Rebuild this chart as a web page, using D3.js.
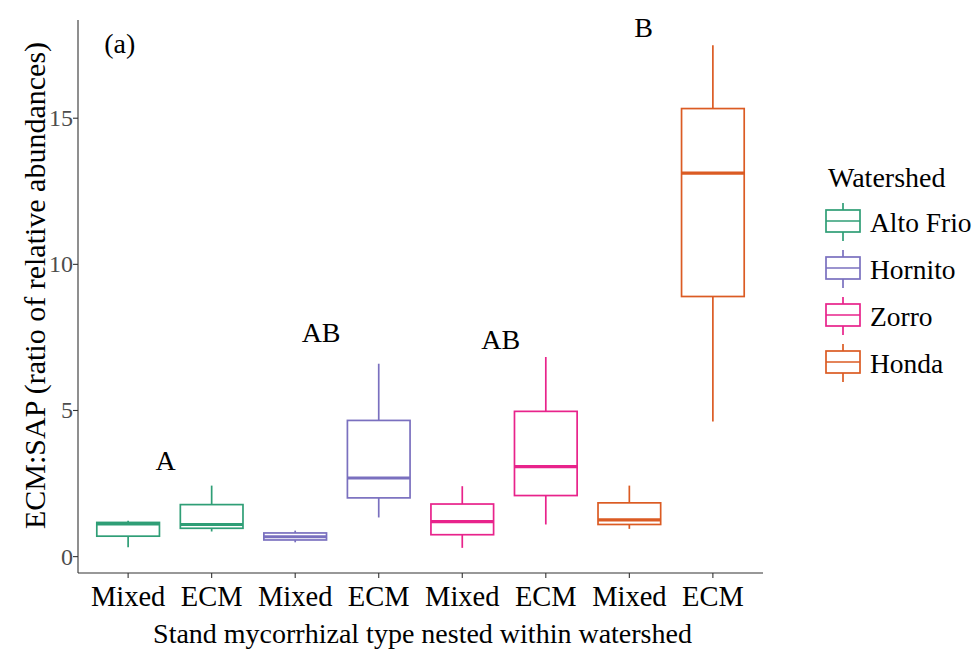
<!DOCTYPE html>
<html>
<head>
<meta charset="utf-8">
<script src="https://cdn.jsdelivr.net/npm/d3@7"></script>
<style>
  html, body { margin: 0; padding: 0; background: #ffffff; }
  svg { display: block; }
  text { font-family: "Liberation Serif", "Times New Roman", serif; }
</style>
</head>
<body>
<svg id="chart" width="977" height="656"></svg>
<script>
// Stand type within each watershed
const categories = ["Mixed", "ECM", "Mixed", "ECM", "Mixed", "ECM", "Mixed", "ECM"];
const watershedOf = ["Alto Frio", "Alto Frio", "Hornito", "Hornito", "Zorro", "Zorro", "Honda", "Honda"];
const watersheds = ["Alto Frio", "Hornito", "Zorro", "Honda"];
const colours = ["#2f9e76", "#7a70bf", "#e8238b", "#db5b23"];

// Box summaries of ECM:SAP ratio
const whiskerLow  = [0.32, 0.86, 0.49, 1.34, 0.30, 1.10, 0.95, 4.62];
const q1          = [0.70, 0.97, 0.57, 2.01, 0.75, 2.09, 1.10, 8.90];
const median      = [1.12, 1.10, 0.68, 2.69, 1.20, 3.08, 1.26, 13.12];
const q3          = [1.17, 1.78, 0.81, 4.66, 1.80, 4.97, 1.84, 15.33];
const whiskerHigh = [1.23, 2.43, 0.89, 6.60, 2.41, 6.83, 2.43, 17.50];

const yTicks = [0, 5, 10, 15];

// Group letters and panel tag (x in category index units, y in data units)
const noteLabels = ["(a)", "A", "AB", "AB", "B"];
const noteX = [-0.1, 0.45, 2.31, 4.46, 6.17];
const noteY = [17.57, 3.30, 7.67, 7.43, 18.10];

const svg = d3.select("#chart");
const pLeft = 78, pRight = 763, pTop = 20, pBottom = 573;

// Discrete x positions with 0.6 step of padding on each side
const x = d3.scalePoint()
  .domain(d3.range(categories.length))
  .range([pLeft, pRight])
  .padding(0.6);
const step = x.step();
const xc = i => x(0) + step * i;

const yMin = d3.min(whiskerLow), yMax = d3.max(whiskerHigh);
const pad = (yMax - yMin) * 0.05;
const y = d3.scaleLinear().domain([yMin - pad, yMax + pad]).range([pBottom, pTop]);

const colour = d3.scaleOrdinal().domain(watersheds).range(colours);
const boxW = step * 0.75;

// Boxes
const g = svg.append("g");
categories.forEach((c, i) => {
  const col = colour(watershedOf[i]);
  const cx = x(i);
  g.append("line").attr("x1", cx).attr("x2", cx)
    .attr("y1", y(q3[i])).attr("y2", y(whiskerHigh[i]))
    .attr("stroke", col).attr("stroke-width", 1.7);
  g.append("line").attr("x1", cx).attr("x2", cx)
    .attr("y1", y(q1[i])).attr("y2", y(whiskerLow[i]))
    .attr("stroke", col).attr("stroke-width", 1.7);
  g.append("rect")
    .attr("x", cx - boxW / 2).attr("width", boxW)
    .attr("y", y(q3[i])).attr("height", y(q1[i]) - y(q3[i]))
    .attr("fill", "#ffffff").attr("stroke", col).attr("stroke-width", 1.7);
  g.append("line")
    .attr("x1", cx - boxW / 2).attr("x2", cx + boxW / 2)
    .attr("y1", y(median[i])).attr("y2", y(median[i]))
    .attr("stroke", col).attr("stroke-width", 3.2);
});

// Axes
const axisCol = "#333333";
svg.append("line").attr("x1", pLeft).attr("x2", pLeft).attr("y1", pTop).attr("y2", pBottom)
  .attr("stroke", axisCol).attr("stroke-width", 1.1);
svg.append("line").attr("x1", pLeft).attr("x2", pRight).attr("y1", pBottom).attr("y2", pBottom)
  .attr("stroke", axisCol).attr("stroke-width", 1.1);

yTicks.forEach(t => {
  svg.append("line").attr("x1", pLeft - 5).attr("x2", pLeft).attr("y1", y(t)).attr("y2", y(t))
    .attr("stroke", axisCol).attr("stroke-width", 1.1);
  svg.append("text").attr("x", pLeft - 5).attr("y", y(t))
    .attr("text-anchor", "end").attr("dominant-baseline", "central")
    .attr("font-size", 24).attr("fill", "#4d4d4d").text(t);
});

categories.forEach((c, i) => {
  svg.append("line").attr("x1", x(i)).attr("x2", x(i)).attr("y1", pBottom).attr("y2", pBottom + 5)
    .attr("stroke", axisCol).attr("stroke-width", 1.1);
  svg.append("text").attr("x", x(i)).attr("y", 606)
    .attr("text-anchor", "middle").attr("font-size", 28.5).attr("fill", "#000").text(c);
});

svg.append("text").attr("x", (pLeft + pRight) / 2 + 2).attr("y", 643)
  .attr("text-anchor", "middle").attr("font-size", 28).attr("fill", "#000")
  .text("Stand mycorrhizal type nested within watershed");

svg.append("text")
  .attr("transform", `translate(45, ${(pTop + pBottom) / 2 - 11}) rotate(-90)`)
  .attr("text-anchor", "middle").attr("font-size", 30).attr("fill", "#000")
  .text("ECM:SAP (ratio of relative abundances)");

// Annotations
noteLabels.forEach((t, i) => {
  svg.append("text").attr("x", xc(noteX[i])).attr("y", y(noteY[i]))
    .attr("text-anchor", "middle").attr("dominant-baseline", "central")
    .attr("font-size", 28).attr("fill", "#000").text(t);
});

// Legend
const lg = svg.append("g");
lg.append("text").attr("x", 828).attr("y", 187).attr("font-size", 28).attr("fill", "#000").text("Watershed");
watersheds.forEach((w, i) => {
  const cy = 221 + i * 47;
  const col = colour(w);
  const kx = 826, kw = 34, cxk = kx + kw / 2;
  lg.append("line").attr("x1", cxk).attr("x2", cxk).attr("y1", cy - 18).attr("y2", cy + 20)
    .attr("stroke", col).attr("stroke-width", 1.7);
  lg.append("rect").attr("x", kx).attr("y", cy - 11).attr("width", kw).attr("height", 22)
    .attr("fill", "#fff").attr("stroke", col).attr("stroke-width", 1.7);
  lg.append("line").attr("x1", kx).attr("x2", kx + kw).attr("y1", cy).attr("y2", cy)
    .attr("stroke", col).attr("stroke-width", 1.7);
  lg.append("text").attr("x", 870).attr("y", cy + 11).attr("font-size", 27.5).attr("fill", "#000").text(w);
});
</script>
</body>
</html>
